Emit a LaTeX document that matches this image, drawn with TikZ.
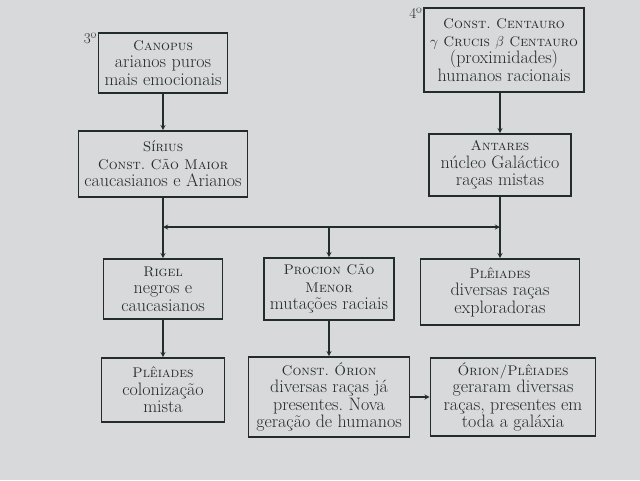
\documentclass[tikz,border=0pt]{standalone}
\usepackage{tikz}
\usetikzlibrary{arrows}
\definecolor{page}{RGB}{216,217,219}
\definecolor{ink}{RGB}{34,44,40}
\newcommand{\boxhead}[1]{{\fontsize{14}{17.5}\selectfont\textsc{#1}}}
\frenchspacing

\begin{document}
\begin{tikzpicture}[x=1pt,y=-1pt,>=stealth,
box/.style={draw=ink,line width=1.6pt,text=ink,align=center,inner sep=2pt,font=\fontsize{18}{17.5}\selectfont},
link/.style={->,ink,line width=1.3pt}]
% The page
\fill[page] (0,0) rectangle (640,480);
\useasboundingbox (0,0) rectangle (640,480);

% The boxes, left column
\node[box,minimum width=129pt,minimum height=60pt] (canopus) at (163,63)
  {\boxhead{Canopus}\\arianos puros\\mais emocionais};
\node[box,minimum width=169pt,minimum height=66pt] (sirius) at (163,164)
  {\boxhead{Sírius}\\\boxhead{Const. Cão Maior}\\caucasianos e Arianos};
\node[box,minimum width=119pt,minimum height=60pt] (rigel) at (163,289)
  {\boxhead{Rigel}\\negros e\\caucasianos};
\node[box,minimum width=123pt,minimum height=64pt] (pleiadesl) at (163,390)
  {\boxhead{Plêiades}\\colonização\\mista};

% The boxes, middle column
\node[box,minimum width=130pt,minimum height=62pt] (procion) at (329,289)
  {\boxhead{Procion Cão}\\\boxhead{Menor}\\mutações raciais};
\node[box,minimum width=161pt,minimum height=80pt] (orion) at (329,397)
  {\boxhead{Const. Órion}\\diversas raças já\\presentes. Nova\\geração de humanos};

% The boxes, right column
\node[box,minimum width=160pt,minimum height=84pt] (centauro) at (504,50)
  {\boxhead{Const. Centauro}\\\boxhead{$\gamma$ Crucis $\beta$ Centauro}\\(proximidades)\\humanos racionais};
\node[box,minimum width=142pt,minimum height=62pt] (antares) at (500,165)
  {\boxhead{Antares}\\núcleo Galáctico\\raças mistas};
\node[box,minimum width=159pt,minimum height=66pt] (pleiadesr) at (500,292)
  {\boxhead{Plêiades}\\diversas raças\\exploradoras};
\node[box,minimum width=165pt,minimum height=78pt] (orionpleiades) at (513,397)
  {\boxhead{Órion/Plêiades}\\geraram diversas\\raças, presentes em\\toda a galáxia};

% The numbers
\node[anchor=north east,inner sep=1pt,text=ink,font=\fontsize{15}{17.5}\selectfont] (third) at (canopus.north west) {3º};
\node[anchor=north east,inner sep=1pt,text=ink,font=\fontsize{15}{17.5}\selectfont] (fourth) at (centauro.north west) {4º};

% The links
\coordinate (jl) at (163,227);
\coordinate (jm) at (329,227);
\coordinate (jr) at (500,227);
\draw[link] (canopus) -- (sirius);
\draw[link] (antares.north |- centauro.south) -- (antares.north);
\draw[link] (sirius) -- (rigel);
\draw[link] (antares) -- (pleiadesr);
\draw[link,<->] (jl) -- (jr);
\draw[link] (jm) -- (procion);
\draw[link] (rigel) -- (pleiadesl);
\draw[link] (procion) -- (orion);
\draw[link] (orion.east) -- (orion.east -| orionpleiades.west);
\end{tikzpicture}
\end{document}
